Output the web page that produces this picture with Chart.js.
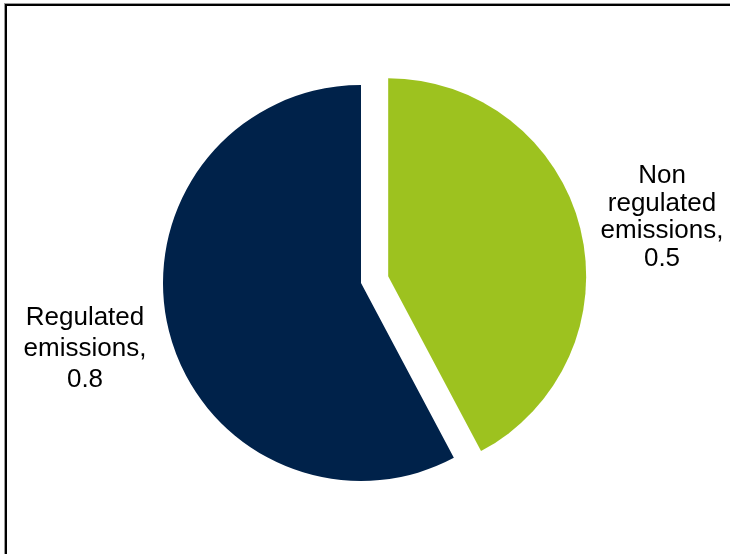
<!DOCTYPE html>
<html>
<head>
<meta charset="utf-8">
<script src="https://cdn.jsdelivr.net/npm/chart.js@4/dist/chart.umd.min.js"></script>
<style>
    html, body { margin: 0; padding: 0; background: #fff; }
    #wrap { position: relative; width: 730px; height: 554px; overflow: hidden; }
    #frame {
        position: absolute; left: 5px; top: 4px; width: 800px; height: 600px;
        border-left: 2px solid #000; border-top: 2px solid #000;
        box-shadow: -1px -1px 0 #9a9a9a;
    }
    canvas { position: absolute; left: 0; top: 0; }
</style>
</head>
<body>
<div id="wrap">
    <div id="frame"></div>
    <canvas id="pieChart" width="730" height="554"></canvas>
</div>
<script>
// Categories and values (drawn clockwise from 12 o'clock)
const categories = ['Non regulated emissions', 'Regulated emissions'];
const values = [0.549, 0.751];
const sliceColors = ['#9DC21F', '#00224A'];
const sliceOffsets = [112, 0];   // chart.js moves an arc by offset / 4

// Where each data label block sits (centre x, first baseline, line height)
const labelAnchors = [
    { x: 662, y: 183, lineHeight: 27.7 },
    { x: 85, y: 325, lineHeight: 30.8 }
];

// Simple word wrap for the data labels
function wrapText(ctx, text, maxWidth) {
    const words = text.split(' ');
    const lines = [];
    let line = '';
    words.forEach(function(w) {
        const test = line ? line + ' ' + w : w;
        if (line && ctx.measureText(test).width > maxWidth) {
            lines.push(line);
            line = w;
        } else {
            line = test;
        }
    });
    if (line) lines.push(line);
    return lines;
}

// Keep the exploded slice the same size and angle as an unexploded one
const keepRadius = {
    id: 'keepRadius',
    afterDatasetsUpdate(chart) {
        const meta = chart.getDatasetMeta(0);
        const R = chart.options.radius;
        meta.data.forEach(function(arc, i) {
            const off = (sliceOffsets[i] || 0) / 4;
            if (!off) return;
            const fix = 1 - Math.sin(Math.min(Math.PI, arc.circumference));
            const radiusOffset = off * fix;
            arc.outerRadius = R - radiusOffset;
            const shrink = radiusOffset / (Math.PI * R) / 2;
            arc.startAngle -= shrink;
            arc.endAngle += shrink;
        });
    }
};

// Draws "Category, value" next to each slice
const dataLabels = {
    id: 'dataLabels',
    afterDatasetsDraw(chart) {
        const ctx = chart.ctx;
        const meta = chart.getDatasetMeta(0);
        ctx.save();
        ctx.font = '26px "Liberation Sans", Arial, sans-serif';
        ctx.fillStyle = '#000';
        ctx.textAlign = 'center';
        ctx.textBaseline = 'alphabetic';
        meta.data.forEach(function(arc, i) {
            const a = labelAnchors[i];
            const v = chart.data.datasets[0].data[i];
            const text = chart.data.labels[i] + ', ' + v.toFixed(1);
            const lines = wrapText(ctx, text, 130);
            lines.forEach(function(l, j) {
                ctx.fillText(l, a.x, a.y + j * a.lineHeight);
            });
        });
        ctx.restore();
    }
};

const ctx = document.getElementById('pieChart').getContext('2d');
const pieChart = new Chart(ctx, {
    type: 'pie',
    data: {
        labels: categories,
        datasets: [{
            data: values,
            backgroundColor: sliceColors,
            borderWidth: 0,
            offset: sliceOffsets
        }]
    },
    options: {
        responsive: false,
        animation: false,
        radius: 198,
        layout: { padding: { left: 0, right: 8, top: 12, bottom: 0 } },
        plugins: {
            legend: { display: false },
            tooltip: { enabled: false }
        }
    },
    plugins: [keepRadius, dataLabels]
});
</script>
</body>
</html>
